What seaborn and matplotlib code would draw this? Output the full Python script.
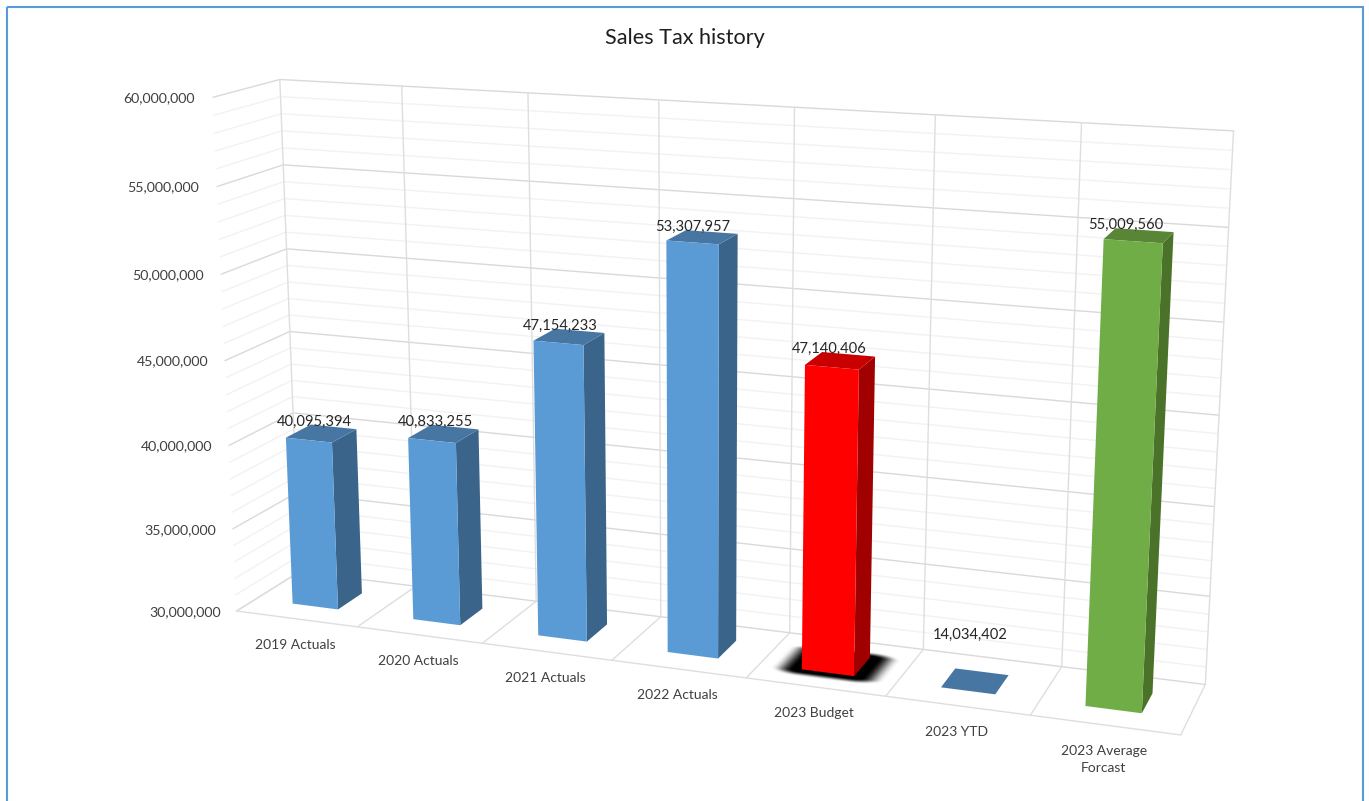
import numpy as np
import pandas as pd
import matplotlib
matplotlib.use("Agg")
import matplotlib.pyplot as plt
import seaborn as sns
from matplotlib.colors import LinearSegmentedColormap
from matplotlib.patches import Polygon, Rectangle
from matplotlib.transforms import Transform

categories = ['2019 Actuals', '2020 Actuals', '2021 Actuals', '2022 Actuals',
              '2023 Budget', '2023 YTD', '2023 Average\nForcast']
sales_tax = [40095394, 40833255, 47154233, 53307957, 47140406, 14034402, 55009560]
value_ticks = [30000000, 35000000, 40000000, 45000000, 50000000, 55000000, 60000000]
front_colors = ['#5B9BD5', '#5B9BD5', '#5B9BD5', '#5B9BD5', '#FF0000', '#5B9BD5', '#70AD47']
side_colors = ['#3A648A', '#3A648A', '#3A648A', '#3A648A', '#A00000', '#3A648A', '#4A7229']
top_colors = ['#4776A3', '#4776A3', '#4776A3', '#4776A3', '#C80000', '#4776A3', '#588636']

FLOOR = value_ticks[0]
CEILING = value_ticks[-1]
BAR_W = 0.38
Z_FRONT, Z_BACK = 0.3, 0.7
TEXT = '#404040'

# the Excel 3D box: (category edge, value in millions, depth) -> pixel in the picture
camera_points = [
    (0, 30, 0, 238, 610), (1, 30, 0, 359, 627), (2, 30, 0, 483, 643), (3, 30, 0, 611, 661),
    (4, 30, 0, 747, 677), (5, 30, 0, 886, 696), (6, 30, 0, 1030, 716), (7, 30, 0, 1180, 736),
    (0, 30, 1, 296, 572), (4, 30, 1, 790, 632), (5, 30, 1, 923, 649), (6, 30, 1, 1063, 667),
    (7, 30, 1, 1205, 685),
    (0, 60, 1, 280, 80), (1, 60, 1, 402, 86), (2, 60, 1, 528, 93), (3, 60, 1, 660, 100),
    (4, 60, 1, 794, 108), (5, 60, 1, 935, 115), (6, 60, 1, 1082, 122), (7, 60, 1, 1234, 130),
    (0, 60, 0, 212, 97), (0, 55, 0, 216, 187), (0, 50, 0, 220, 274),
    (0, 55, 1, 284, 165), (0, 50, 1, 288, 249),
    (7, 55, 1, 1228, 227), (7, 50, 1, 1223, 322),
]


def fit_camera(points):
    rows, rhs = [], []
    for x, v, z, u, w in points:
        rows.append([x, v, z, 1, 0, 0, 0, 0, -u * x, -u * v, -u * z])
        rhs.append(u)
        rows.append([0, 0, 0, 0, x, v, z, 1, -w * x, -w * v, -w * z])
        rhs.append(w)
    sol = np.linalg.lstsq(np.array(rows, float), np.array(rhs, float), rcond=None)[0]
    return np.append(sol, 1).reshape(3, 4)


CAMERA = fit_camera(camera_points)


def project(x, value, z):
    # x is a seaborn category position, so the box runs from -0.5 to 6.5
    x, value, z = np.broadcast_arrays(np.asarray(x, float), np.asarray(value, float), np.asarray(z, float))
    pts = np.stack([x + 0.5, value / 1e6, z, np.ones_like(x)])
    uvw = np.tensordot(CAMERA, pts, axes=1)
    return uvw[0] / uvw[2], uvw[1] / uvw[2]


class DepthProjection(Transform):
    input_dims = 2
    output_dims = 2

    def __init__(self, z):
        super().__init__()
        self.z = z

    def transform_non_affine(self, values):
        u, w = project(values[:, 0], values[:, 1], self.z)
        return np.column_stack([u, w])


def line3d(ax, x, v, z, color, lw=1.0, zorder=1):
    u, w = project(x, v, z)
    ax.plot(u, w, color=color, lw=lw, zorder=zorder, solid_capstyle='round')


def draw_box(ax):
    left, right = -0.5, len(categories) - 0.5
    for v in range(FLOOR, CEILING + 1, 1000000):
        major = v in value_ticks
        color = '#D9D9D9' if major else '#F2F2F2'
        line3d(ax, [left, left], [v, v], [0, 1], color, 1.0, 1 if not major else 1.5)
        line3d(ax, [left, right], [v, v], [1, 1], color, 1.0, 1 if not major else 1.5)
    for i in range(len(categories) + 1):
        edge = left + i
        line3d(ax, [edge, edge], [FLOOR, CEILING], [1, 1], '#DEDEDE', 1.0, 1.5)
        line3d(ax, [edge, edge], [FLOOR, FLOOR], [0, 1], '#DEDEDE', 1.0, 1.5)
    line3d(ax, [left, right], [FLOOR, FLOOR], [0, 0], '#DEDEDE', 1.0, 1.5)


def draw_shadow(ax, pos):
    # blurred contact shadow of the budget bar, white to black so it needs no alpha
    xs, zs = np.meshgrid(np.linspace(pos - 0.5, pos + 0.5, 120), np.linspace(0, 1, 120))
    dx = np.maximum(np.abs(xs - pos) - BAR_W / 2, 0) / 0.22
    dz = np.maximum(np.abs(zs - (Z_FRONT + Z_BACK) / 2) - (Z_BACK - Z_FRONT) / 2, 0) / 0.13
    t = np.clip((1 - np.hypot(dx, dz)) * 1.35, 0, 1)
    fade = t * t * (3 - 2 * t)
    u, w = project(xs, FLOOR, zs)
    cmap = LinearSegmentedColormap.from_list('shadow', ['white', 'black'])
    ax.pcolormesh(u, w, fade, cmap=cmap, vmin=0, vmax=1, shading='gouraud')


sns.set_theme(style="white")
plt.rcParams['font.family'] = ['Lato', 'DejaVu Sans']

df = pd.DataFrame({'category': categories, 'sales_tax': sales_tax})
df['drawn'] = df['sales_tax'].clip(lower=FLOOR, upper=CEILING)

fig = plt.figure(figsize=(13.69, 8.01), dpi=100)
# the shadow goes on its own axes under the chart, the category axis refuses 2D arrays
floor_ax = fig.add_axes([0, 0, 1, 1], zorder=0)
ax = fig.add_axes([0, 0, 1, 1], zorder=1)
sns.barplot(data=df, x='category', y='drawn', width=BAR_W, saturation=1, ax=ax)
bars = list(ax.patches)

draw_box(ax)
draw_shadow(floor_ax, categories.index('2023 Budget'))

front_tf = DepthProjection(Z_FRONT) + ax.transData
for i, p in enumerate(bars):
    x0, x1 = p.get_x(), p.get_x() + p.get_width()
    top = p.get_height()
    p.set_y(FLOOR)
    p.set_height(top - FLOOR)
    p.set_transform(front_tf)
    p.set_facecolor(front_colors[i])
    p.set_edgecolor('none')
    p.set_zorder(5)
    p.set_clip_on(False)

    u, w = project([x1, x1, x1, x1], [FLOOR, FLOOR, top, top], [Z_FRONT, Z_BACK, Z_BACK, Z_FRONT])
    ax.add_patch(Polygon(np.column_stack([u, w]), fc=side_colors[i], ec='none', zorder=4))
    u, w = project([x0, x1, x1, x0], top, [Z_FRONT, Z_FRONT, Z_BACK, Z_BACK])
    ax.add_patch(Polygon(np.column_stack([u, w]), fc=top_colors[i], ec='none', zorder=4))

    u, w = project(i, top, Z_BACK)
    if df['sales_tax'][i] < FLOOR:
        u, w = u + 7, w - 32  # value is below the axis, Excel leaves its label above the floor
    ax.text(u - 19, w - 5, f"{df['sales_tax'][i]:,}", ha='center', va='center',
            fontsize=10.6, color='#262626', zorder=6)

    u, w = project(i, FLOOR, 0)
    ax.text(u - 1, w + 20, categories[i], ha='center', va='top', fontsize=10,
            color=TEXT, linespacing=1.55, zorder=6)

for v in value_ticks:
    u, w = project(-0.5, v, 0)
    ax.text(u - 16 - 2 * (v - FLOOR) / (CEILING - FLOOR), w + 1, f"{v:,}", ha='right', va='center',
            fontsize=10.15, color=TEXT)

ax.text(685, 38, 'Sales Tax history', ha='center', va='center', fontsize=15.6, color='#1F1F1F')

ax.add_patch(Rectangle((7, 7), 1356, 820, fc='none', ec='#5B9BD5', lw=1.5, zorder=7))

for a in (floor_ax, ax):
    a.set_xlim(0, 1369)
    a.set_ylim(801, 0)
    a.set_axis_off()

fig.savefig('out.png', dpi=100, facecolor='white')
plt.close(fig)
